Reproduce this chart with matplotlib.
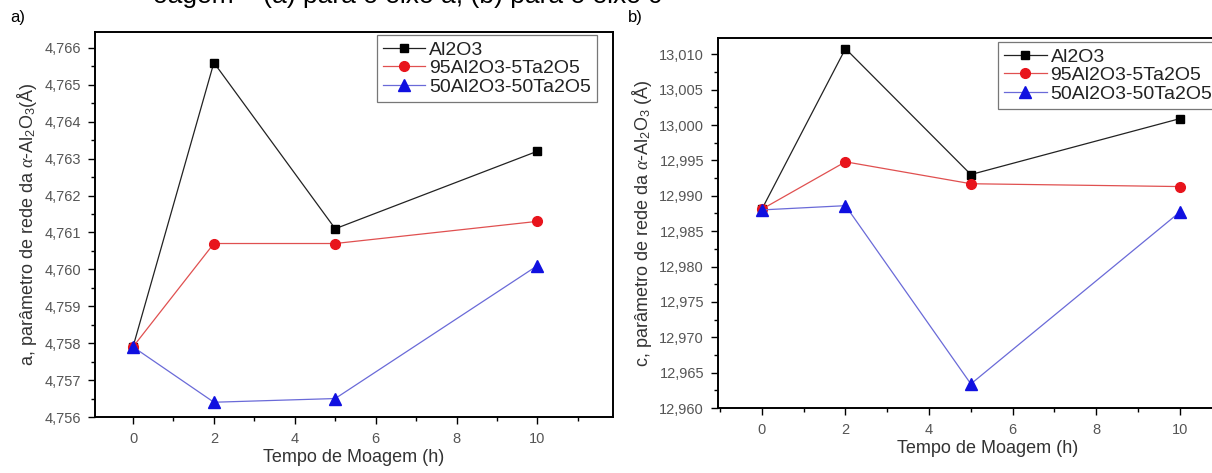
"""Lattice parameters a and c of alpha-Al2O3 versus milling time, two panels."""
import matplotlib
matplotlib.use("Agg")
import matplotlib.pyplot as plt
from matplotlib.ticker import MultipleLocator, FuncFormatter

plt.rcParams["font.family"] = ["Liberation Sans", "DejaVu Sans"]
plt.rcParams["mathtext.fontset"] = "custom"
plt.rcParams["mathtext.rm"] = "Liberation Sans"
plt.rcParams["mathtext.it"] = "Liberation Serif:italic"

# ─── Data ───────────────────────────────────────────────
TIME_H = [0, 2, 5, 10]
SERIES = ["Al2O3", "95Al2O3-5Ta2O5", "50Al2O3-50Ta2O5"]

A_AL2O3 = [4.7579, 4.7656, 4.7611, 4.7632]
A_95_5 = [4.7579, 4.7607, 4.7607, 4.7613]
A_50_50 = [4.7579, 4.7564, 4.7565, 4.7601]

C_AL2O3 = [12.9881, 13.0108, 12.9930, 13.0009]
C_95_5 = [12.9881, 12.9948, 12.9917, 12.9913]
C_50_50 = [12.9880, 12.9886, 12.9634, 12.9877]

# ─── Style ──────────────────────────────────────────────
STYLES = [
    dict(marker="s", ms=6, mfc="black", mec="black", line="#222222"),
    dict(marker="o", ms=7, mfc="#e8141c", mec="#e8141c", line="#e05050"),
    dict(marker="^", ms=8, mfc="#1010e0", mec="#1010e0", line="#6a6ad8"),
]
TICK_C = "#555555"
LABEL_C = "#333333"
comma = FuncFormatter(lambda v, _: f"{v:.3f}".replace(".", ","))

W, H = 1212, 473
fig = plt.figure(figsize=(W / 100, H / 100), dpi=100)


def px_axes(x0, top, x1, bottom):
    return fig.add_axes([x0 / W, 1 - bottom / H, (x1 - x0) / W, (bottom - top) / H])


def style_axes(ax, major, minor, xlim, ylim, ylabel):
    ax.set_xlim(*xlim)
    ax.set_ylim(*ylim)
    ax.xaxis.set_major_locator(MultipleLocator(2))
    ax.xaxis.set_minor_locator(MultipleLocator(1))
    ax.yaxis.set_major_locator(MultipleLocator(major))
    ax.yaxis.set_minor_locator(MultipleLocator(minor))
    ax.yaxis.set_major_formatter(comma)
    ax.tick_params(which="both", direction="out", colors="black", labelcolor=TICK_C,
                   labelsize=10.5, width=1.0)
    ax.tick_params(which="major", length=5)
    ax.tick_params(which="minor", length=3)
    ax.tick_params(axis="x", which="major", pad=6)
    ax.tick_params(axis="y", which="major", pad=5)
    for sp in ax.spines.values():
        sp.set_linewidth(1.4)
    ax.set_xlabel("Tempo de Moagem (h)", fontsize=13, color=LABEL_C, labelpad=2)
    ax.set_ylabel(ylabel, fontsize=13, color=LABEL_C, labelpad=4)


def draw(ax, ys_list, anchor):
    for name, ys, st in zip(SERIES, ys_list, STYLES):
        ax.plot(TIME_H, ys, color=st["line"], lw=0.9, marker=st["marker"], ms=st["ms"],
                mfc=st["mfc"], mec=st["mec"], label=name, zorder=3)
    leg = ax.legend(loc="upper left", bbox_to_anchor=anchor, fontsize=14, frameon=True,
                    fancybox=False, edgecolor="#555555", borderpad=0.3, labelspacing=0.05,
                    handlelength=2.2, handletextpad=0.2, borderaxespad=0)
    leg.get_frame().set_linewidth(0.9)
    for t in leg.get_texts():
        t.set_color("#222222")


# ─── Panel a ────────────────────────────────────────────
ax1 = px_axes(95, 32, 613, 417)
draw(ax1, [A_AL2O3, A_95_5, A_50_50], (0.544, 0.992))
style_axes(ax1, 0.001, 0.0005, (-0.94, 11.87), (4.756, 4.76643),
           r"a, parâmetro de rede da $\mathit{\alpha}$-Al$_2$O$_3$(Å)")

# ─── Panel b ────────────────────────────────────────────
ax2 = px_axes(718, 38, 1258, 408)
draw(ax2, [C_AL2O3, C_95_5, C_50_50], (0.5185, 0.989))
style_axes(ax2, 0.005, 0.0025, (-1.05, 11.87), (12.960, 13.0123),
           r"c, parâmetro de rede da $\mathit{\alpha}$-Al$_2$O$_3$ (Å)")

fig.text(10 / W, 1 - 22 / H, "a)", fontsize=12, color="black")
fig.text(628 / W, 1 - 22 / H, "b)", fontsize=12, color="black")
# caption of the source page, cut off at the top of the image
fig.text(153 / W, 1 - 3 / H, "oagem – (a) para o eixo a; (b) para o eixo c",
         fontsize=19, color="black", va="baseline")

fig.savefig("out.png", dpi=100)
